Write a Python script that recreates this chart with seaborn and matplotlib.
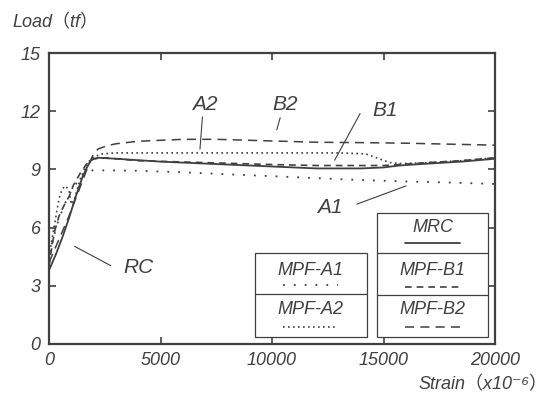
import matplotlib
matplotlib.use("Agg")
import matplotlib.pyplot as plt
from matplotlib.patches import Rectangle
import seaborn as sns
import pandas as pd

sns.set_theme(style="white")
plt.rcParams['font.family'] = ['Liberation Sans', 'Noto Sans CJK JP', 'DejaVu Sans']

# ---------------- data ----------------
x_mrc = [0, 150, 300, 600, 900, 1200, 1500, 1700, 1900, 2200, 3000, 5000, 7000,
         10000, 12000, 14000, 15000, 15700, 17000, 18500, 20000]
y_mrc = [3.8, 4.2, 4.6, 5.5, 6.5, 7.6, 8.6, 9.1, 9.5, 9.6, 9.55, 9.4, 9.3,
         9.15, 9.05, 9.05, 9.1, 9.2, 9.3, 9.4, 9.55]

x_b1 = [0, 100, 250, 450, 700, 900, 1100, 1400, 1700, 2000, 2500, 4000, 7000,
        10000, 12000, 14000, 15000, 15700, 17000, 18500, 20000]
y_b1 = [4.0, 4.8, 5.8, 6.6, 7.2, 7.6, 8.2, 8.8, 9.3, 9.55, 9.6, 9.45, 9.35,
        9.25, 9.2, 9.2, 9.2, 9.25, 9.35, 9.45, 9.6]

x_b2 = [0, 300, 600, 900, 1200, 1500, 1800, 2000, 2200, 2600, 3000, 4000, 5000,
        6000, 7500, 9000, 10500, 12000, 14000, 16000, 18000, 20000]
y_b2 = [4.2, 5.0, 5.8, 6.6, 7.5, 8.4, 9.3, 9.8, 10.05, 10.22, 10.32, 10.45, 10.5,
        10.55, 10.55, 10.5, 10.45, 10.4, 10.38, 10.35, 10.3, 10.25]

x_a2 = [0, 150, 300, 450, 600, 750, 900, 1000, 1150, 1400, 1700, 2000, 2400, 3000,
        5000, 8000, 11000, 13000, 14200, 14800, 15300, 15800, 17000, 18500, 20000]
y_a2 = [4.5, 5.5, 6.5, 7.5, 8.0, 8.15, 7.9, 7.2, 7.5, 8.5, 9.3, 9.65, 9.8, 9.85,
        9.85, 9.85, 9.85, 9.85, 9.8, 9.55, 9.35, 9.3, 9.35, 9.45, 9.6]

x_a1 = [0, 200, 400, 700, 1000, 1300, 1600, 1900, 2500, 4000, 6000, 8000, 10000,
        12000, 14000, 16000, 18000, 20000]
y_a1 = [4.6, 5.5, 6.3, 7.2, 7.9, 8.4, 8.8, 8.95, 8.95, 8.93, 8.85, 8.75, 8.65,
        8.55, 8.45, 8.38, 8.32, 8.25]

x_ticks = [0, 5000, 10000, 15000, 20000]
y_ticks = [0, 3, 6, 9, 12, 15]

legend_left = ["MPF-A1", "MPF-A2"]
legend_right = ["MRC", "MPF-B1", "MPF-B2"]

# curve labels: (text, text_x, text_y, line_from_x, line_from_y, line_to_x, line_to_y)
labels = [
    ("A2", 6980, 12.37, 6890, 11.85, 6760, 9.9),
    ("B2", 10590, 12.37, 10400, 11.8, 10180, 10.9),
    ("B1", 15050, 12.06, 14010, 12.0, 12750, 9.35),
    ("A1", 12610, 7.06, 13690, 7.16, 16130, 8.2),
    ("RC", 4010, 3.92, 2880, 3.97, 1040, 5.1),
]

# ---------------- figure ----------------
ink = "#404040"
fig = plt.figure(figsize=(5.47, 3.93), dpi=100)
ax = fig.add_axes([49/547, 1-344/393, 446/547, 291/393])

styles = {
    "MRC": dict(ls="-", lw=1.3),
    "MPF-B1": dict(ls=(0, (4, 3)), lw=1.2),
    "MPF-B2": dict(ls=(0, (6, 4)), lw=1.1),
    "MPF-A2": dict(ls=(0, (1, 2)), lw=1.2),
    "MPF-A1": dict(ls=(0, (1, 5)), lw=1.3),
}
series = {
    "MRC": (x_mrc, y_mrc),
    "MPF-B1": (x_b1, y_b1),
    "MPF-B2": (x_b2, y_b2),
    "MPF-A2": (x_a2, y_a2),
    "MPF-A1": (x_a1, y_a1),
}
for name, (xs, ys) in series.items():
    df = pd.DataFrame({"x": xs, "y": ys})
    sns.lineplot(data=df, x="x", y="y", ax=ax, sort=False, estimator=None,
                 color=ink, linestyle=styles[name]["ls"], lw=styles[name]["lw"])

ax.set_xlim(0, 20000)
ax.set_ylim(0, 15)
ax.set_xticks(x_ticks)
ax.set_yticks(y_ticks)
ax.set_xticklabels([str(t) for t in x_ticks], fontsize=13, style="italic", color=ink)
ax.set_yticklabels([str(t) for t in y_ticks], fontsize=13, style="italic", color=ink)
ax.tick_params(direction="in", length=5, width=1.2, color=ink, top=True, right=True,
               bottom=True, left=True, pad=6)
ax.set_xlabel("")
ax.set_ylabel("")
for sp in ax.spines.values():
    sp.set_color(ink)
    sp.set_linewidth(1.6)

fig.text(12/547, 1-23/393, "Load（tf）", fontsize=13, style="italic", color=ink,
         ha="left", va="center")
fig.text(547/547, 1-385/393, "Strain（x10⁻⁶）", fontsize=13, style="italic",
         color=ink, ha="right", va="center")

for t, tx, ty, x0, y0, x1, y1 in labels:
    ax.text(tx, ty, t, fontsize=15, style="italic", color=ink, ha="center", va="center")
    ax.annotate("", xy=(x1, y1), xytext=(x0, y0),
                arrowprops=dict(arrowstyle="-", color=ink, lw=0.8))

# ---------------- legend boxes ----------------
tr = ax.transAxes
lw_box = 0.9
ax.add_patch(Rectangle((0.462, 0.024), 0.713-0.462, 0.313-0.024, transform=tr,
                       fill=False, ec=ink, lw=lw_box))
ax.plot([0.462, 0.713], [0.172, 0.172], transform=tr, color=ink, lw=lw_box)
ax.add_patch(Rectangle((0.735, 0.024), 0.984-0.735, 0.450-0.024, transform=tr,
                       fill=False, ec=ink, lw=lw_box))
ax.plot([0.735, 0.984], [0.313, 0.313], transform=tr, color=ink, lw=lw_box)
ax.plot([0.735, 0.984], [0.168, 0.168], transform=tr, color=ink, lw=lw_box)

cx_l, cx_r = 0.587, 0.860
entries = [
    (legend_right[0], cx_r, 0.399, 0.347),
    (legend_left[0], cx_l, 0.254, 0.203),
    (legend_left[1], cx_l, 0.117, 0.058),
    (legend_right[1], cx_r, 0.254, 0.196),
    (legend_right[2], cx_r, 0.117, 0.058),
]
for name, cx, ty, sy in entries:
    ax.text(cx, ty, name, transform=tr, fontsize=13, style="italic", color=ink,
            ha="center", va="center")
    ax.plot([cx-0.062, cx+0.062], [sy, sy], transform=tr, color=ink,
            linestyle=styles[name]["ls"], lw=styles[name]["lw"])

fig.savefig("out.png", dpi=100, facecolor="white")
